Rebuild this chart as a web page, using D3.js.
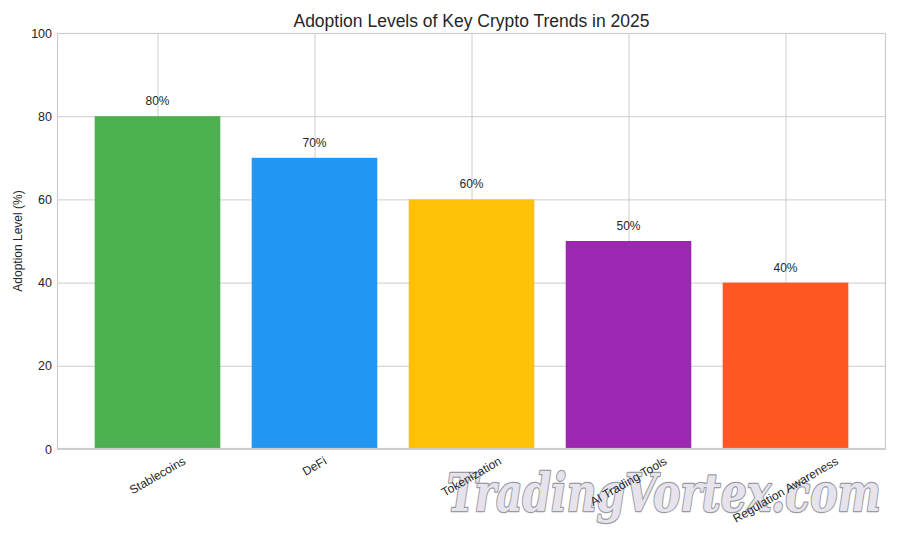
<!DOCTYPE html>
<html>
<head>
<meta charset="utf-8">
<script src="https://cdn.jsdelivr.net/npm/d3@7"></script>
<style>
  html, body { margin: 0; padding: 0; background: #fff; }
  svg { display: block; }
  text { font-family: "Liberation Sans", Arial, sans-serif; fill: #262626; }
</style>
</head>
<body>
<svg id="chart" width="900" height="540"></svg>
<script>
const categories = ["Stablecoins", "DeFi", "Tokenization", "AI Trading Tools", "Regulation Awareness"];
const adoption = [80, 70, 60, 50, 40];
const barColors = ["#4CAF50", "#2196F3", "#FFC107", "#9C27B0", "#FF5722"];
const yTicks = [0, 20, 40, 60, 80, 100];
const titleText = "Adoption Levels of Key Crypto Trends in 2025";
const yLabelText = "Adoption Level (%)";
const watermarkText = "TradingVortex.com";

const svg = d3.select("#chart");
const L = 57, R = 886, T = 33, B = 449;

const x = d3.scaleLinear().domain([-0.64, categories.length - 1 + 0.64]).range([L, R]);
const y = d3.scaleLinear().domain([0, 100]).range([B, T]);
const barW = 0.8;

svg.append("rect").attr("x", 0).attr("y", 0).attr("width", 900).attr("height", 540).attr("fill", "#fff");

// horizontal grid + y ticks
const yAxis = d3.axisLeft(y).tickValues(yTicks).tickSize(-(R - L)).tickPadding(5).tickFormat(d3.format("d"));
const gy = svg.append("g").attr("transform", `translate(${L},0)`).call(yAxis);
gy.select(".domain").remove();
gy.selectAll(".tick line").attr("stroke", "#cccccc").attr("stroke-width", 1);
gy.selectAll(".tick text").attr("font-size", "12.5px").attr("fill", "#262626")
  .style("font-family", '"Liberation Sans", Arial, sans-serif');

// vertical grid
const xAxis = d3.axisBottom(x).tickValues(d3.range(categories.length)).tickSize(-(B - T)).tickFormat("");
const gx = svg.append("g").attr("transform", `translate(0,${B})`).call(xAxis);
gx.select(".domain").remove();
gx.selectAll(".tick line").attr("stroke", "#cccccc").attr("stroke-width", 1);

// bars
svg.append("g").selectAll("rect").data(adoption).join("rect")
  .attr("x", (d, i) => x(i - barW / 2))
  .attr("width", (d, i) => x(i + barW / 2) - x(i - barW / 2))
  .attr("y", d => y(d))
  .attr("height", d => y(0) - y(d))
  .attr("fill", (d, i) => barColors[i]);

// spines
svg.append("rect").attr("x", L + 0.5).attr("y", T + 0.5).attr("width", R - L - 1).attr("height", B - T - 1)
  .attr("fill", "none").attr("stroke", "#cccccc").attr("stroke-width", 1.2);

// value labels
svg.append("g").selectAll("text").data(adoption).join("text")
  .attr("x", (d, i) => x(i))
  .attr("y", d => y(d + 2) - 2.6)
  .attr("text-anchor", "middle")
  .attr("font-size", "12px")
  .text(d => d + "%");

// watermark: sized to its natural width, then stretched vertically
const wmTargetW = 434, wmVisualSize = 53;
const wm = svg.append("text")
  .attr("x", 0).attr("y", 0)
  .style("font-family", '"DejaVu Serif", serif')
  .style("font-style", "italic").style("font-weight", "bold")
  .attr("font-size", wmVisualSize + "px")
  .style("fill", "#e6e3ec").attr("stroke", "#9a9aa2")
  .attr("stroke-linejoin", "round")
  .style("paint-order", "stroke")
  .text(watermarkText);
const natW = wm.node().getComputedTextLength();
const fs = wmVisualSize * wmTargetW / natW;
const sy = wmVisualSize / fs;
wm.attr("font-size", fs + "px")
  .attr("stroke-width", 2.2 / Math.sqrt(sy))
  .attr("transform", `translate(447,511) scale(1,${sy})`);

// x labels rotated 30deg, centred on tick
const xl = svg.append("g");
categories.forEach((c, i) => {
  const t = xl.append("text")
    .attr("font-size", "12px")
    .attr("text-anchor", "middle")
    .attr("dominant-baseline", "central")
    .text(c);
  const w = t.node().getComputedTextLength();
  const h = 13.8;
  const H = w * 0.5 + h * Math.cos(Math.PI / 6);
  const cx = x(i), cy = B + 5 + H / 2;
  t.attr("transform", `translate(${cx},${cy}) rotate(-30)`);
});

// title
svg.append("text").attr("x", (L + R) / 2).attr("y", 26.5).attr("text-anchor", "middle")
  .attr("font-size", "17.5px").text(titleText);

// y label
svg.append("text").attr("transform", `translate(22,${(T + B) / 2}) rotate(-90)`)
  .attr("text-anchor", "middle").attr("font-size", "12px").text(yLabelText);
</script>
</body>
</html>
